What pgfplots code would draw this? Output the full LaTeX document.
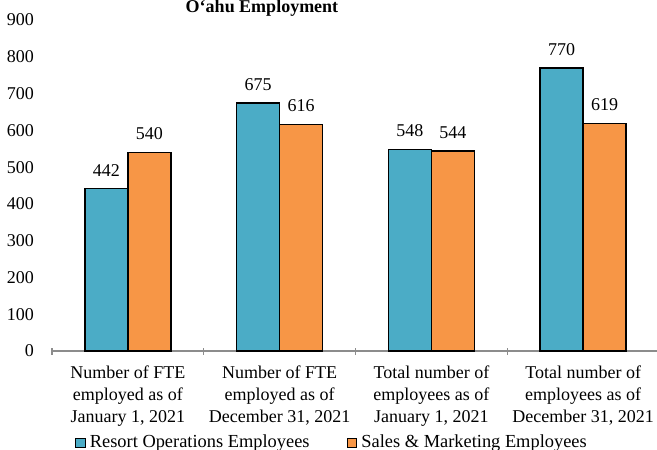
\documentclass[border=0pt]{standalone}
\usepackage{fontspec}
\setmainfont{Liberation Serif}
\usepackage{pgfplots}
\pgfplotsset{compat=1.18}

\definecolor{resortblue}{HTML}{4BACC6}
\definecolor{salesorange}{HTML}{F79646}
\definecolor{axisgray}{HTML}{8C8C8C}

\begin{document}
\begin{tikzpicture}
\begin{axis}[
  at={(0pt,0pt)}, anchor=south west,
  scale only axis,
  width=303.5pt, height=165.5pt,
  ybar=0pt,
  bar width=21.5pt,
  xmin=-0.5, xmax=3.5,
  ymin=0, ymax=900,
  ytick={0,100,...,900},
  xtick={0,1,2,3},
  xticklabels={
    {Number of FTE\\employed as of\\January 1, 2021},
    {Number of FTE\\employed as of\\December 31, 2021},
    {Total number of\\employees as of\\January 1, 2021},
    {Total number of\\employees as of\\December 31, 2021}},
  minor xtick={-0.5,0.5,1.5,2.5,3.5},
  major tick length=0pt,
  minor tick length=3.5pt,
  xtick align=center,
  minor x tick style={axisgray, line width=0.6pt},
  separate axis lines,
  axis x line*=bottom,
  axis y line*=left,
  x axis line style={axisgray, line width=0.75pt, -},
  y axis line style={draw=none},
  ytick style={draw=none},
  font=\fontsize{9}{11}\selectfont,
  /pgf/number format/assume math mode=true,
  y tick label style={xshift=-5.5pt},
  x tick label style={align=center, yshift=-4pt},
  nodes near coords,
  nodes near coords style={font=\fontsize{9}{11}\selectfont, yshift=2.5pt, black},
  legend columns=2,
  legend style={at={(axis description cs:0.038,-0.278)}, anchor=west,
    draw=none, fill=none, font=\fontsize{9.2}{11}\selectfont,
    /tikz/every even column/.append style={column sep=16.5pt},
    inner sep=0pt, outer sep=0pt},
  legend image code/.code={\draw[#1, draw=black, line width=0.6pt] (0pt,-2.4pt) rectangle (4.8pt,2.4pt);},
]
\addplot[fill=resortblue, draw=black, line width=0.75pt] coordinates {(0,442) (1,675) (2,548) (3,770)};
\addplot[fill=salesorange, draw=black, line width=0.75pt] coordinates {(0,540) (1,616) (2,544) (3,619)};
\legend{Resort Operations Employees, Sales \& Marketing Employees}
\end{axis}
\node[anchor=base, font=\bfseries\fontsize{9}{11}\selectfont, inner sep=0pt] at (105pt,169pt) {O‘ahu Employment};
\pgfresetboundingbox
\useasboundingbox (-26pt,-49pt) rectangle (302.5pt,175.5pt);
\end{tikzpicture}
\end{document}
